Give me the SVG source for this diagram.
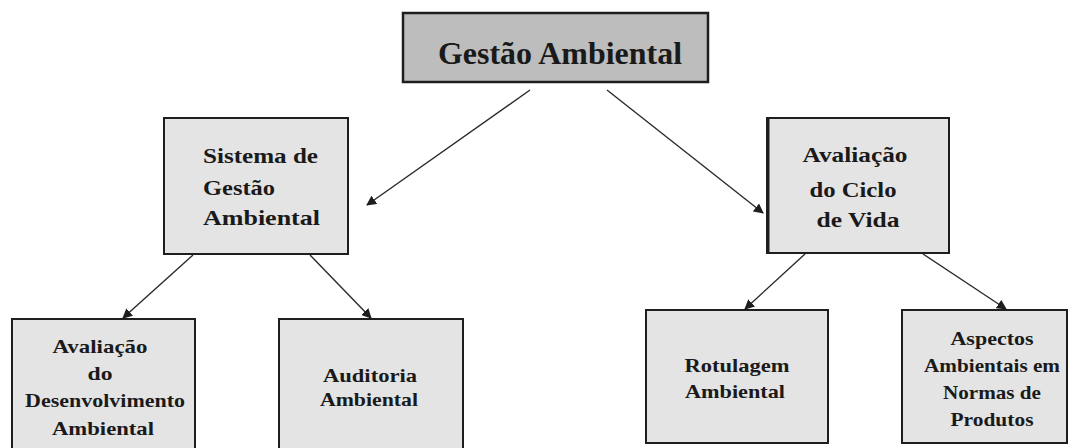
<svg xmlns="http://www.w3.org/2000/svg" width="1070" height="448" viewBox="0 0 1070 448">
<defs>
<style>
.box{fill:#e4e4e4;stroke:#1e1e1e;stroke-width:2}
.top{fill:#bdbdbd;stroke:#1e1e1e;stroke-width:2.5}
text{font-family:'Liberation Serif','Times New Roman',serif;font-weight:bold;fill:#1a1a1a}
.m{font-size:22px}
.s{font-size:19px}
.c{text-anchor:middle}
.edge{stroke:#2a2a2a;stroke-width:1.4;fill:none;marker-end:url(#ah)}
</style>
<marker id="ah" viewBox="0 0 10 10" refX="9" refY="5" markerWidth="10" markerHeight="10" markerUnits="userSpaceOnUse" orient="auto">
<path d="M0,0 L10,5 L0,10 Z" fill="#1e1e1e"/>
</marker>
</defs>
<rect width="1070" height="448" fill="#ffffff"/>
<g id="connectors">
<line class="edge" x1="530" y1="90" x2="367" y2="205"/>
<line class="edge" x1="607" y1="90" x2="763" y2="213"/>
<line class="edge" x1="193" y1="255" x2="123" y2="318"/>
<line class="edge" x1="310" y1="255" x2="371" y2="318"/>
<line class="edge" x1="805" y1="254" x2="745" y2="309"/>
<line class="edge" x1="923" y1="254" x2="1006" y2="309"/>
</g>
<g id="gestao-ambiental">
<rect class="top" x="403" y="13" width="305" height="69"/>
<text x="560" y="64" font-size="32" text-anchor="middle" textLength="244" lengthAdjust="spacingAndGlyphs">Gestão Ambiental</text>
</g>
<g id="sistema-gestao">
<rect class="box" x="164" y="118" width="184" height="136"/>
<text class="m" x="203" y="163" textLength="115" lengthAdjust="spacingAndGlyphs">Sistema de</text>
<text class="m" x="203" y="195" textLength="72" lengthAdjust="spacingAndGlyphs">Gestão</text>
<text class="m" x="203" y="225" textLength="117" lengthAdjust="spacingAndGlyphs">Ambiental</text>
</g>
<g id="avaliacao-ciclo">
<rect class="box" x="767" y="118" width="182" height="135"/>
<line x1="768" y1="118" x2="768" y2="253" stroke="#1e1e1e" stroke-width="3"/>
<text class="m c" x="855" y="162" textLength="105" lengthAdjust="spacingAndGlyphs">Avaliação</text>
<text class="m c" x="853" y="197" textLength="87" lengthAdjust="spacingAndGlyphs">do Ciclo</text>
<text class="m c" x="858" y="227" textLength="83" lengthAdjust="spacingAndGlyphs">de Vida</text>
</g>
<g id="avaliacao-desenvolvimento">
<rect class="box" x="12" y="319" width="183" height="140"/>
<text class="s c" x="100" y="353" textLength="95" lengthAdjust="spacingAndGlyphs">Avaliação</text>
<text class="s c" x="100" y="380" textLength="25" lengthAdjust="spacingAndGlyphs">do</text>
<text class="s c" x="105" y="407" textLength="160" lengthAdjust="spacingAndGlyphs">Desenvolvimento</text>
<text class="s c" x="103" y="435" textLength="102" lengthAdjust="spacingAndGlyphs">Ambiental</text>
</g>
<g id="auditoria">
<rect class="box" x="279" y="319" width="184" height="140"/>
<text class="s c" x="370" y="382" textLength="94" lengthAdjust="spacingAndGlyphs">Auditoria</text>
<text class="s c" x="369" y="406" textLength="98" lengthAdjust="spacingAndGlyphs">Ambiental</text>
</g>
<g id="rotulagem">
<rect class="box" x="646" y="310" width="182" height="133"/>
<text class="s c" x="737" y="372" textLength="105" lengthAdjust="spacingAndGlyphs">Rotulagem</text>
<text class="s c" x="735" y="398" textLength="100" lengthAdjust="spacingAndGlyphs">Ambiental</text>
</g>
<g id="aspectos">
<rect class="box" x="902" y="310" width="165" height="133"/>
<text class="s c" x="992" y="345" textLength="83" lengthAdjust="spacingAndGlyphs">Aspectos</text>
<text class="s c" x="992" y="372" textLength="136" lengthAdjust="spacingAndGlyphs">Ambientais em</text>
<text class="s c" x="992" y="399" textLength="98" lengthAdjust="spacingAndGlyphs">Normas de</text>
<text class="s c" x="992" y="426" textLength="83" lengthAdjust="spacingAndGlyphs">Produtos</text>
</g>
</svg>
